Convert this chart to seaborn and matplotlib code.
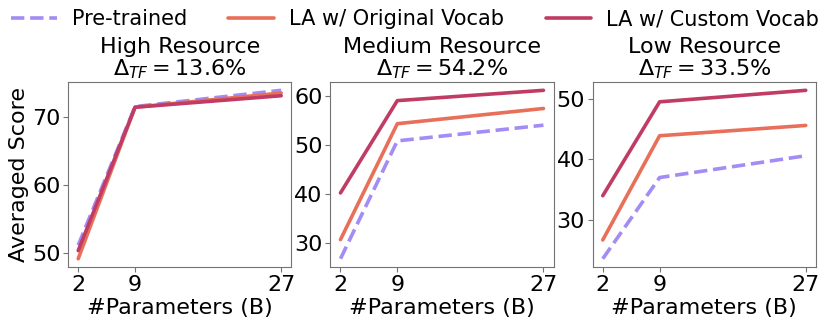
#!/usr/bin/env python3
"""
Scaling plot: averaged score vs. model size for three resource groups
"""

import matplotlib
matplotlib.use('Agg')
import matplotlib.pyplot as plt
import pandas as pd
import seaborn as sns

# model sizes (billions of parameters)
params = [2, 9, 27]

methods = ['Pre-trained', 'LA w/ Original Vocab', 'LA w/ Custom Vocab']
panels = ['High Resource', 'Medium Resource', 'Low Resource']
delta_tf = ['13.6', '54.2', '33.5']

# averaged scores per panel
high_pretrained = [51.1, 71.6, 74.0]
high_original = [49.1, 71.5, 73.6]
high_custom = [50.3, 71.5, 73.2]

medium_pretrained = [26.8, 50.8, 54.0]
medium_original = [30.7, 54.3, 57.4]
medium_custom = [40.2, 59.0, 61.1]

low_pretrained = [23.6, 37.0, 40.6]
low_original = [26.7, 43.9, 45.6]
low_custom = [34.0, 49.5, 51.4]

scores = {
    'High Resource': [high_pretrained, high_original, high_custom],
    'Medium Resource': [medium_pretrained, medium_original, medium_custom],
    'Low Resource': [low_pretrained, low_original, low_custom],
}

colors = {'Pre-trained': '#a38cf4',
          'LA w/ Original Vocab': '#e8705a',
          'LA w/ Custom Vocab': '#c13c64'}
dashes = {'Pre-trained': (3.7, 1.6),
          'LA w/ Original Vocab': '',
          'LA w/ Custom Vocab': ''}

rows = []
for panel in panels:
    for method, vals in zip(methods, scores[panel]):
        for p, v in zip(params, vals):
            rows.append({'panel': panel, 'method': method, 'params': p, 'score': v})
df = pd.DataFrame(rows)

sns.set_style('white')
plt.rcParams['font.family'] = ['DejaVu Sans']
plt.rcParams['text.color'] = 'black'
plt.rcParams['axes.labelcolor'] = 'black'
plt.rcParams['axes.edgecolor'] = '0.45'
plt.rcParams['xtick.major.size'] = 3.5
plt.rcParams['ytick.major.size'] = 3.5
plt.rcParams['xtick.bottom'] = True
plt.rcParams['ytick.left'] = True
plt.rcParams['xtick.color'] = '0.45'
plt.rcParams['ytick.color'] = '0.45'
plt.rcParams['xtick.labelcolor'] = 'black'
plt.rcParams['ytick.labelcolor'] = 'black'

fig = plt.figure(figsize=(8.3, 3.25), dpi=100)
lefts = [0.082, 0.398, 0.714]
axes = [fig.add_axes([l, 0.178, 0.269, 0.570]) for l in lefts]

fs = 16
for ax, panel, d in zip(axes, panels, delta_tf):
    sub = df[df['panel'] == panel]
    sns.lineplot(data=sub, x='params', y='score', hue='method', style='method',
                 hue_order=methods, style_order=methods, palette=colors,
                 dashes=dashes, linewidth=2.6, ax=ax, legend=(panel == panels[0]))
    ax.set_title(f'{panel}\n' + r'$\Delta_{TF} = ' + d + r'\%$', fontsize=fs, pad=5,
                 linespacing=1.0)
    ax.set_xticks(params)
    ax.set_xticklabels([str(p) for p in params])
    ax.tick_params(labelsize=fs, pad=2)
    ax.set_xlabel('#Parameters (B)', fontsize=fs, labelpad=2)
    ax.set_ylabel('')

axes[0].set_ylabel('Averaged Score', fontsize=fs, labelpad=2)

handles, labels = axes[0].get_legend_handles_labels()
axes[0].get_legend().remove()
fig.legend(handles, labels, loc='upper center', bbox_to_anchor=(0.5, 1.03),
           ncol=3, frameon=False, fontsize=15, handlelength=2.2,
           columnspacing=2.0, handletextpad=0.7)

plt.savefig('out.png', dpi=100)
plt.close()
